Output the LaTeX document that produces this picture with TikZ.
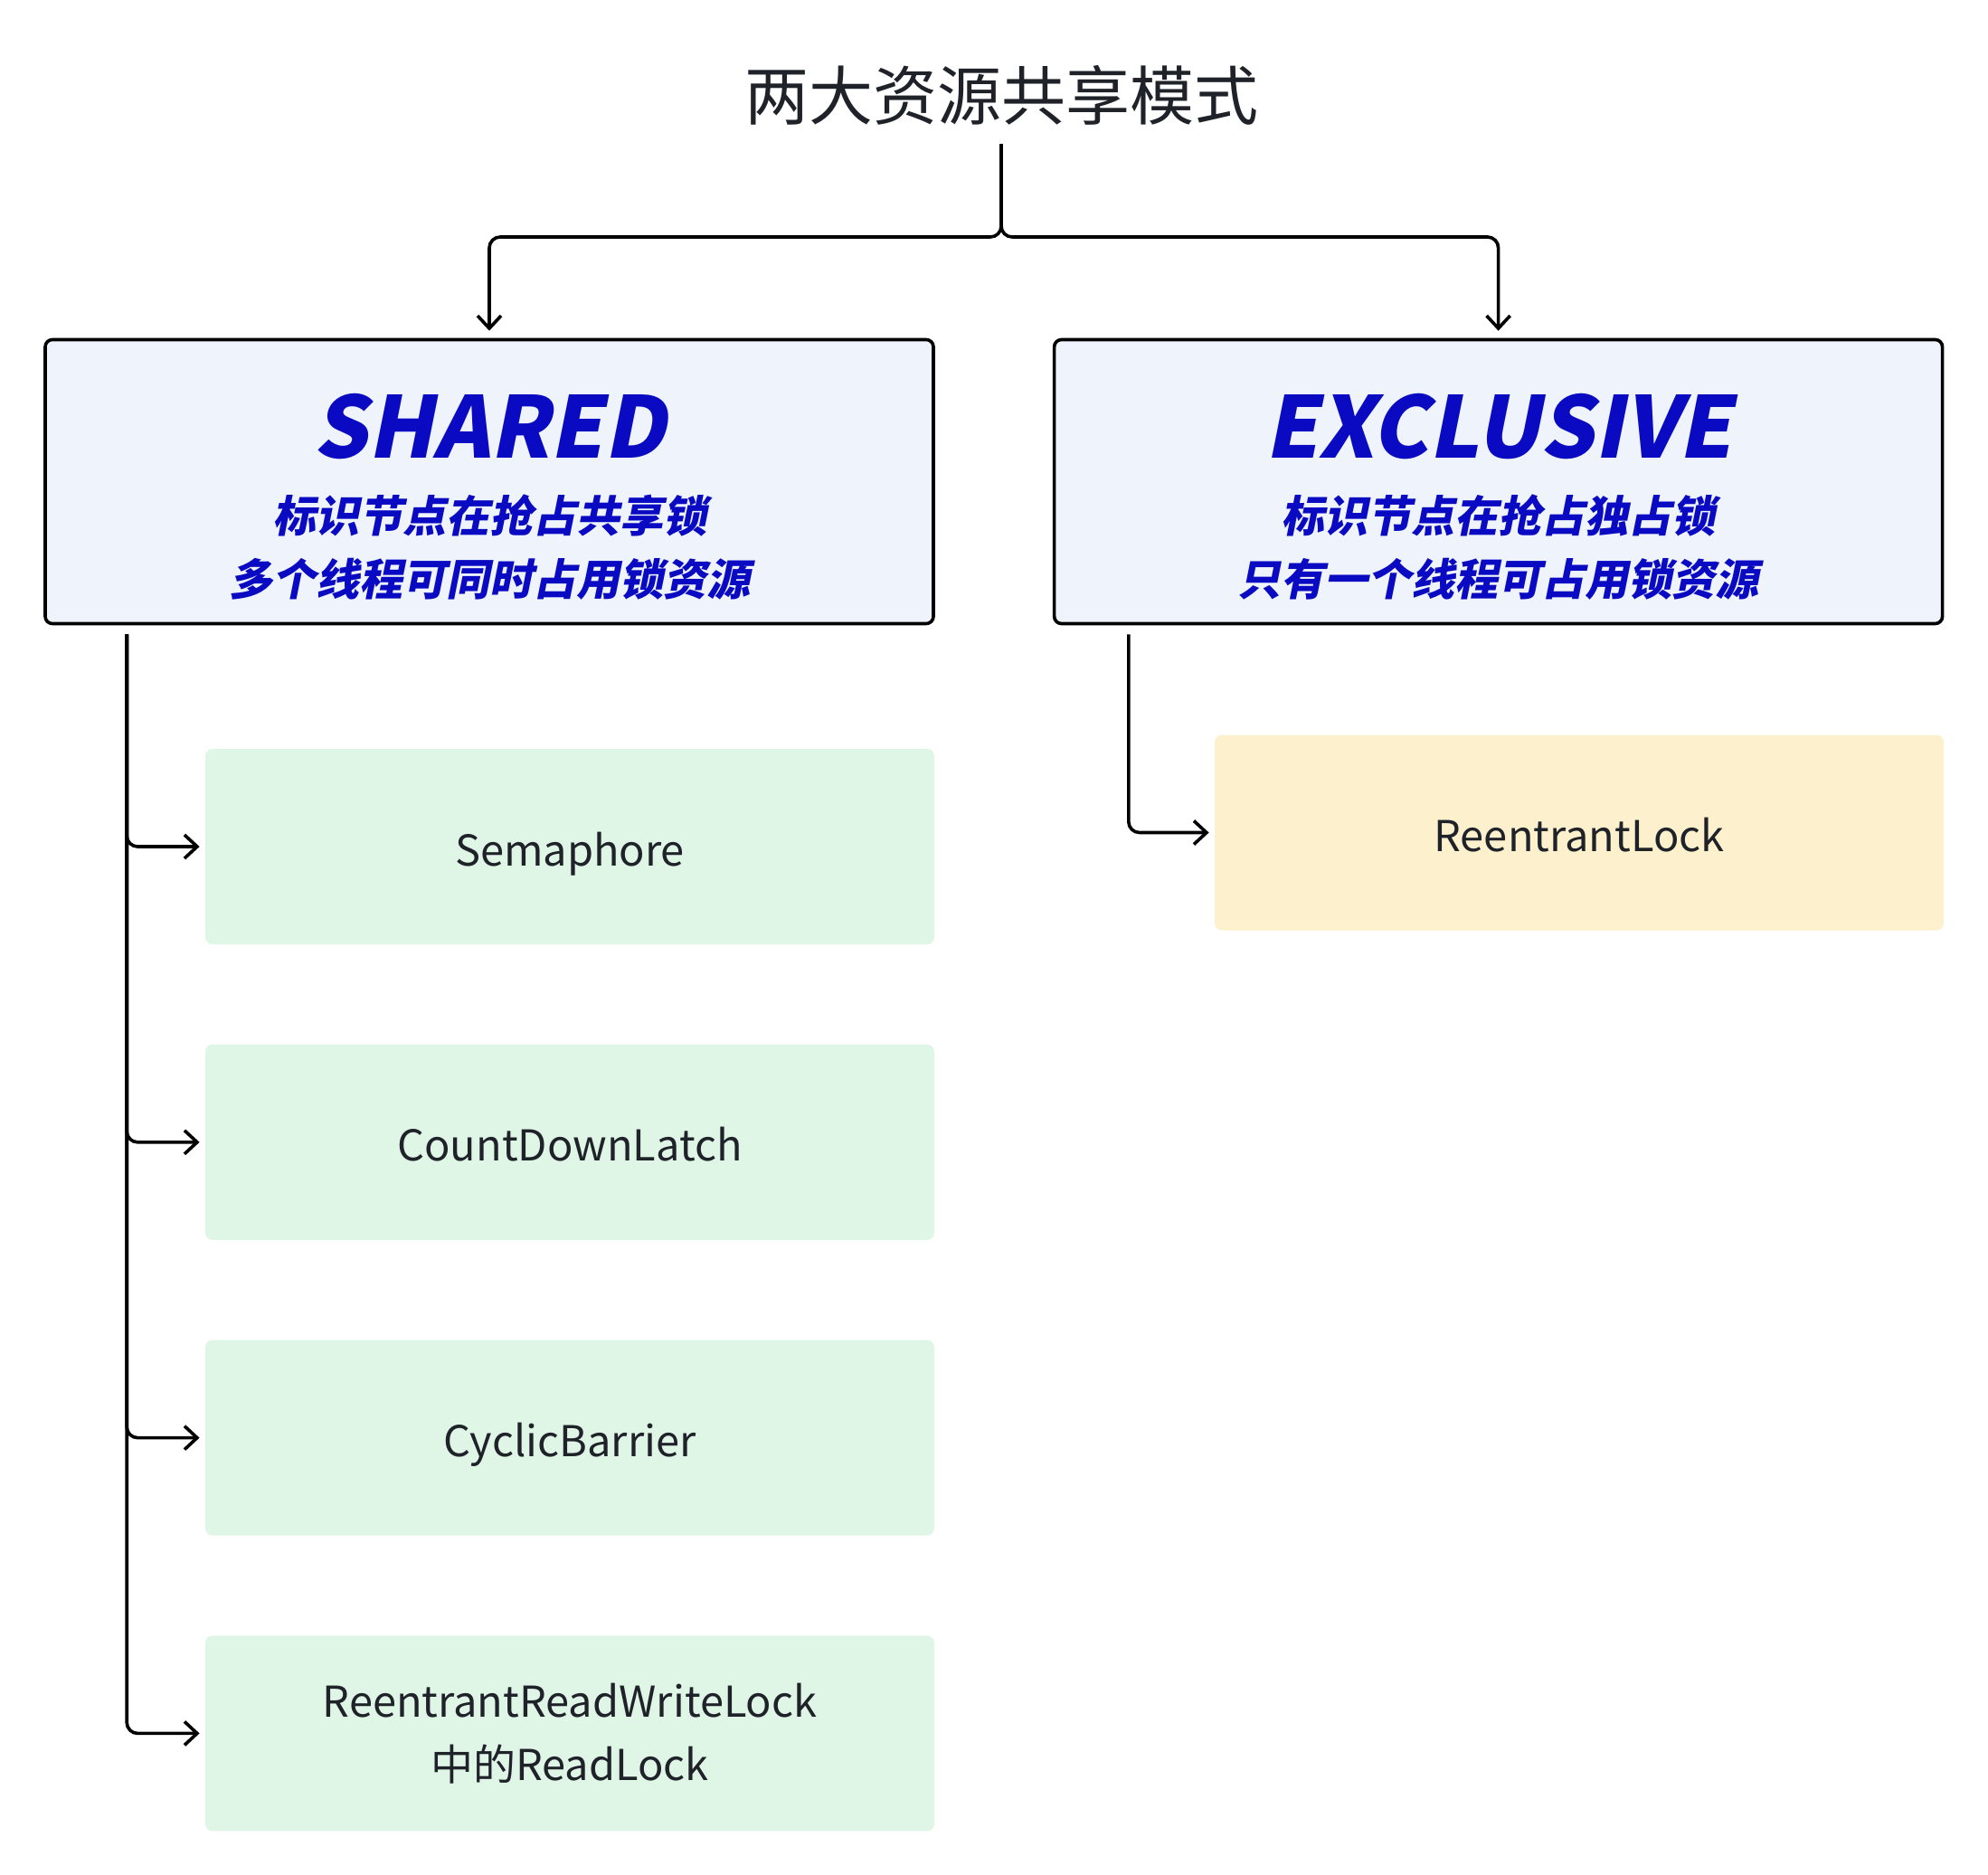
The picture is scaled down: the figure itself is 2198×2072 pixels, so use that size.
\documentclass[tikz,border=0pt]{standalone}
\usepackage{fontspec}
\setmainfont{Noto Sans CJK SC}
\newfontfamily\cjkslant{Noto Sans CJK SC}[FakeSlant=0.2]
\usepackage{tikz}
\usetikzlibrary{positioning,arrows.meta}
\definecolor{lkink}{HTML}{1F2329}
\definecolor{lkblue}{HTML}{0A0AC2}
\definecolor{lkmode}{HTML}{EEF3FC}
\definecolor{lkgreen}{HTML}{DFF5E5}
\definecolor{lkyellow}{HTML}{FDF0CD}

\begin{document}
\begin{tikzpicture}[
  x=0.5pt, y=-0.5pt,
  mode/.style={draw=black, line width=1.8pt, rounded corners=4pt,
    fill=lkmode, minimum width=491pt, minimum height=157pt, align=center,
    text=lkblue, font=\cjkslant\bfseries\fontsize{24}{35}\selectfont},
  impl/.style={rounded corners=4pt, minimum width=403pt,
    minimum height=108pt, align=center, text=lkink,
    font=\fontsize{23.5}{35}\selectfont},
  oneline/.style={text height=22pt, text depth=1pt},
  conn/.style={-{Straight Barb[length=7pt,width=13pt]}, line width=1.8pt,
    rounded corners=6pt},
  ]
  \fill[white] (0,0) rectangle (2198,2072);
  \useasboundingbox (0,0) rectangle (2198,2072);

  % The two modes.
  \node[text=lkink, font=\fontsize{35.5}{40}\selectfont] (title) at (1107,105)
    {两大资源共享模式};
  \node[mode] (shared) at (541,532.5)
    {\rule{0pt}{52pt}{\fontsize{47}{52}\selectfont SHARED}\\[6pt]
     标识节点在抢占共享锁\\多个线程可同时占用锁资源};
  \node[mode, right=65pt of shared] (exclusive)
    {\rule{0pt}{52pt}{\fontsize{47}{52}\selectfont EXCLUSIVE}\\[6pt]
     标识节点在抢占独占锁\\只有一个线程可占用锁资源};

  \coordinate (split) at (1107,262);
  \draw[conn, shorten <=7pt, shorten >=4pt] (title.south) -- (split) -| (shared.north);
  \draw[conn, shorten <=7pt, shorten >=4pt] (title.south) -- (split) -| (exclusive.north);

  % Shared implementations.
  \node[impl, oneline, fill=lkgreen] (sema) at (630,936) {Semaphore};
  \node[impl, oneline, fill=lkgreen, below=55pt of sema] (cdl) {CountDownLatch};
  \node[impl, oneline, fill=lkgreen, below=55pt of cdl] (cyc) {CyclicBarrier};
  \node[impl, fill=lkgreen, below=55pt of cyc] (rrwl)
    {ReentrantReadWriteLock\\中的ReadLock};

  \coordinate (trunk) at ([xshift=46pt, yshift=-5pt]shared.south west);
  \foreach \lk in {sema,cdl,cyc,rrwl}
    \draw[conn, shorten >=3pt] (trunk) |- (\lk.west);

  % Exclusive implementation.
  \node[impl, oneline, fill=lkyellow] (rlock) at (1746,920.5) {ReentrantLock};
  \draw[conn, shorten >=3pt] ([xshift=42pt, yshift=-5pt]exclusive.south west)
    |- (rlock.west);
\end{tikzpicture}
\end{document}
